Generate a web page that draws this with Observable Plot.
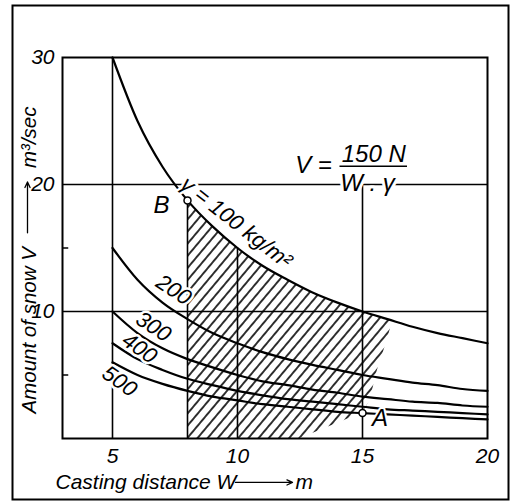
<!DOCTYPE html>
<html><head><meta charset="utf-8">
<script src="https://cdn.jsdelivr.net/npm/d3@7"></script>
<script src="https://cdn.jsdelivr.net/npm/@observablehq/plot@0.6"></script>
<style>body{margin:0;background:#fff;}</style>
</head><body><div id="chart"></div>
<script>
// ---- data ----
const distances = [5, 6, 7, 8, 9, 10, 11, 12, 13, 14, 15, 16, 17, 18, 19, 20];
const gammas = [100, 200, 300, 400, 500];
const v100 = [30, 25, 21.4, 18.75, 16.7, 15, 13.6, 12.5, 11.5, 10.7, 10, 9.4, 8.8, 8.3, 7.9, 7.5];
const v200 = [15, 12.5, 10.7, 9.4, 8.3, 7.5, 6.8, 6.25, 5.8, 5.4, 5, 4.7, 4.4, 4.2, 3.9, 3.75];
const v300 = [10, 8.3, 7.1, 6.25, 5.6, 5, 4.5, 4.2, 3.85, 3.6, 3.3, 3.1, 2.9, 2.8, 2.6, 2.5];
const v400 = [7.5, 6.25, 5.4, 4.7, 4.2, 3.75, 3.4, 3.1, 2.9, 2.7, 2.5, 2.3, 2.2, 2.1, 2.0, 1.9];
const v500 = [6, 5, 4.3, 3.75, 3.3, 3, 2.7, 2.5, 2.3, 2.1, 2, 1.9, 1.8, 1.7, 1.6, 1.5];
const curveValues = [v100, v200, v300, v400, v500];

// hatched region (from B down to the axis, under the 100 curve, to the right edge through A)
const hatchW      = [8, 9, 10, 11, 12, 12.5, 13, 14, 15, 15.3, 15.6, 16, 16.2];
const hatchTop    = [18.75, 16.7, 15, 13.6, 12.5, 12, 11.5, 10.7, 10, 9.8, 9.6, 9.4, 9.26];
const hatchBottom = [0, 0, 0, 0, 0, 0, 0.4, 1.2, 2, 3, 5.4, 7.8, 9.26];

const gridX = [5, 8, 10, 15];
const gridXTop = [30, 18.75, 15, 20];
const gridY = [10, 20];
const minorY = [5, 15];
const xTicks = [5, 10, 15, 20];
const yTicks = [10, 20, 30];

const curveLabels = ["γ = 100 kg/m²", "200", "300", "400", "500"];
const curveLabelW = [9.95, 7.45, 6.64, 6.08, 5.28];
const curveLabelV = [17.0, 11.7, 8.8, 7.1, 4.5];
const curveLabelAngle = [38, 33, 33, 35, 35];

const pointNames = ["B", "A"];
const pointW = [8, 15];
const pointV = [18.75, 2];
const pointLabelW = [6.96, 15.7];
const pointLabelV = [18.4, 1.6];

const formulaParts = ["V =", "150 N", "W . γ"];
const formulaW = [13.04, 15.45, 15.2];
const formulaV = [21.5, 22.36, 20.1];
const formulaBarW = [14.1, 16.8];
const formulaBarV = 21.44;

const yTitleParts = ["Amount of snow V", "m³/sec"];
const yTitleStartV = [1.97, 21.3];
const yTitleW = 1.66;
const yArrowV = [16.2, 20.2];
const xTitleParts = ["Casting distance W", "m"];
const xTitleStartW = [2.72, 12.32];
const xTitleV = -3.46;
const xArrowW = [9.92, 12.2];

// ---- tables ----
const curveRows = gammas.flatMap((g, i) => distances.map((w, j) => ({gamma: g, W: w, V: curveValues[i][j]})));
const hatchRows = hatchW.map((w, i) => ({W: w, lo: hatchBottom[i], hi: hatchTop[i]}));
const gridXRows = gridX.map((w, i) => ({W: w, top: gridXTop[i]}));
const labelRows = curveLabels.map((t, i) => ({t, W: curveLabelW[i], V: curveLabelV[i], a: curveLabelAngle[i]}));
const pointRows = pointNames.map((n, i) => ({n, W: pointW[i], V: pointV[i], lw: pointLabelW[i], lv: pointLabelV[i]}));
const formulaRows = formulaParts.map((t, i) => ({t, W: formulaW[i], V: formulaV[i]}));
const yTitleRows = yTitleParts.map((t, i) => ({t, V: yTitleStartV[i]}));
const xTitleRows = xTitleParts.map((t, i) => ({t, W: xTitleStartW[i]}));

const FONT = "'Liberation Sans Narrow', 'Liberation Sans', Arial, sans-serif";
const txt = {fontFamily: FONT, fontStyle: "italic", fill: "black"};

const svg = Plot.plot({
  width: 518,
  height: 501,
  marginLeft: 62,
  marginRight: 31,
  marginTop: 57,
  marginBottom: 63,
  style: {fontFamily: FONT, fontStyle: "italic", fontSize: "20px", background: "white", overflow: "visible"},
  x: {domain: [3, 20]},
  y: {domain: [0, 30]},
  marks: [
    Plot.areaY(hatchRows, {x: "W", y1: "lo", y2: "hi", fill: "url(#hatch)", curve: "linear"}),
    Plot.ruleY(gridY, {x1: 3, x2: 20, stroke: "black", strokeWidth: 1.6}),
    Plot.ruleX(gridXRows, {x: "W", y1: 0, y2: "top", stroke: "black", strokeWidth: 1.6}),
    Plot.ruleY(minorY, {x1: 3, x2: 3.25, stroke: "black", strokeWidth: 1.5}),
    Plot.line(curveRows, {x: "W", y: "V", z: "gamma", stroke: "black", strokeWidth: 2.2, curve: "monotone-x"}),
    Plot.text(labelRows, {x: "W", y: "V", text: "t", rotate: "a", fontSize: 22, ...txt, stroke: "white", strokeWidth: 5}),
    Plot.text(formulaRows, {x: "W", y: "V", text: "t", fontSize: 24, ...txt, stroke: "white", strokeWidth: 6}),
    Plot.ruleY([formulaBarV], {x1: formulaBarW[0], x2: formulaBarW[1], stroke: "black", strokeWidth: 1.6}),
    Plot.dot(pointRows, {x: "W", y: "V", r: 3.5, fill: "white", stroke: "black", strokeWidth: 1.5}),
    Plot.text(pointRows, {x: "lw", y: "lv", text: "n", fontSize: 24, ...txt, stroke: "white", strokeWidth: 4}),
    Plot.axisX(xTicks, {tickSize: 0, tickPadding: 10, fontSize: 21, fontFamily: FONT, fontStyle: "italic", label: null}),
    Plot.axisY(yTicks, {tickSize: 0, tickPadding: 8, fontSize: 21, fontFamily: FONT, fontStyle: "italic", label: null}),
    Plot.text(yTitleRows, {x: () => yTitleW, y: "V", text: "t", rotate: -90, textAnchor: "start", fontSize: 20.5, ...txt}),
    Plot.arrow([0], {x1: () => yTitleW - 0.06, x2: () => yTitleW - 0.06, y1: () => yArrowV[0], y2: () => yArrowV[1], stroke: "black", strokeWidth: 1.3, headLength: 7, headAngle: 50}),
    Plot.text(xTitleRows, {x: "W", y: () => xTitleV, text: "t", textAnchor: "start", fontSize: 21, ...txt}),
    Plot.arrow([0], {x1: () => xArrowW[0], x2: () => xArrowW[1], y1: () => xTitleV, y2: () => xTitleV, stroke: "black", strokeWidth: 1.3, headLength: 7, headAngle: 50}),
    Plot.frame({stroke: "black", strokeWidth: 2}),
    Plot.frame({stroke: "black", strokeWidth: 2, insetLeft: -50, insetTop: -52, insetRight: -21, insetBottom: -61})
  ]
});

const ns = "http://www.w3.org/2000/svg";
const defs = document.createElementNS(ns, "defs");
const pat = document.createElementNS(ns, "pattern");
pat.setAttribute("id", "hatch");
pat.setAttribute("patternUnits", "userSpaceOnUse");
pat.setAttribute("width", "7.8");
pat.setAttribute("height", "7.8");
pat.setAttribute("patternTransform", "rotate(40)");
const ln = document.createElementNS(ns, "line");
ln.setAttribute("x1", "3.9"); ln.setAttribute("x2", "3.9");
ln.setAttribute("y1", "0"); ln.setAttribute("y2", "7.8");
ln.setAttribute("stroke", "black"); ln.setAttribute("stroke-width", "1.6");
pat.appendChild(ln);
defs.appendChild(pat);
svg.insertBefore(defs, svg.firstChild);

document.getElementById("chart").appendChild(svg);
</script>
</body></html>
